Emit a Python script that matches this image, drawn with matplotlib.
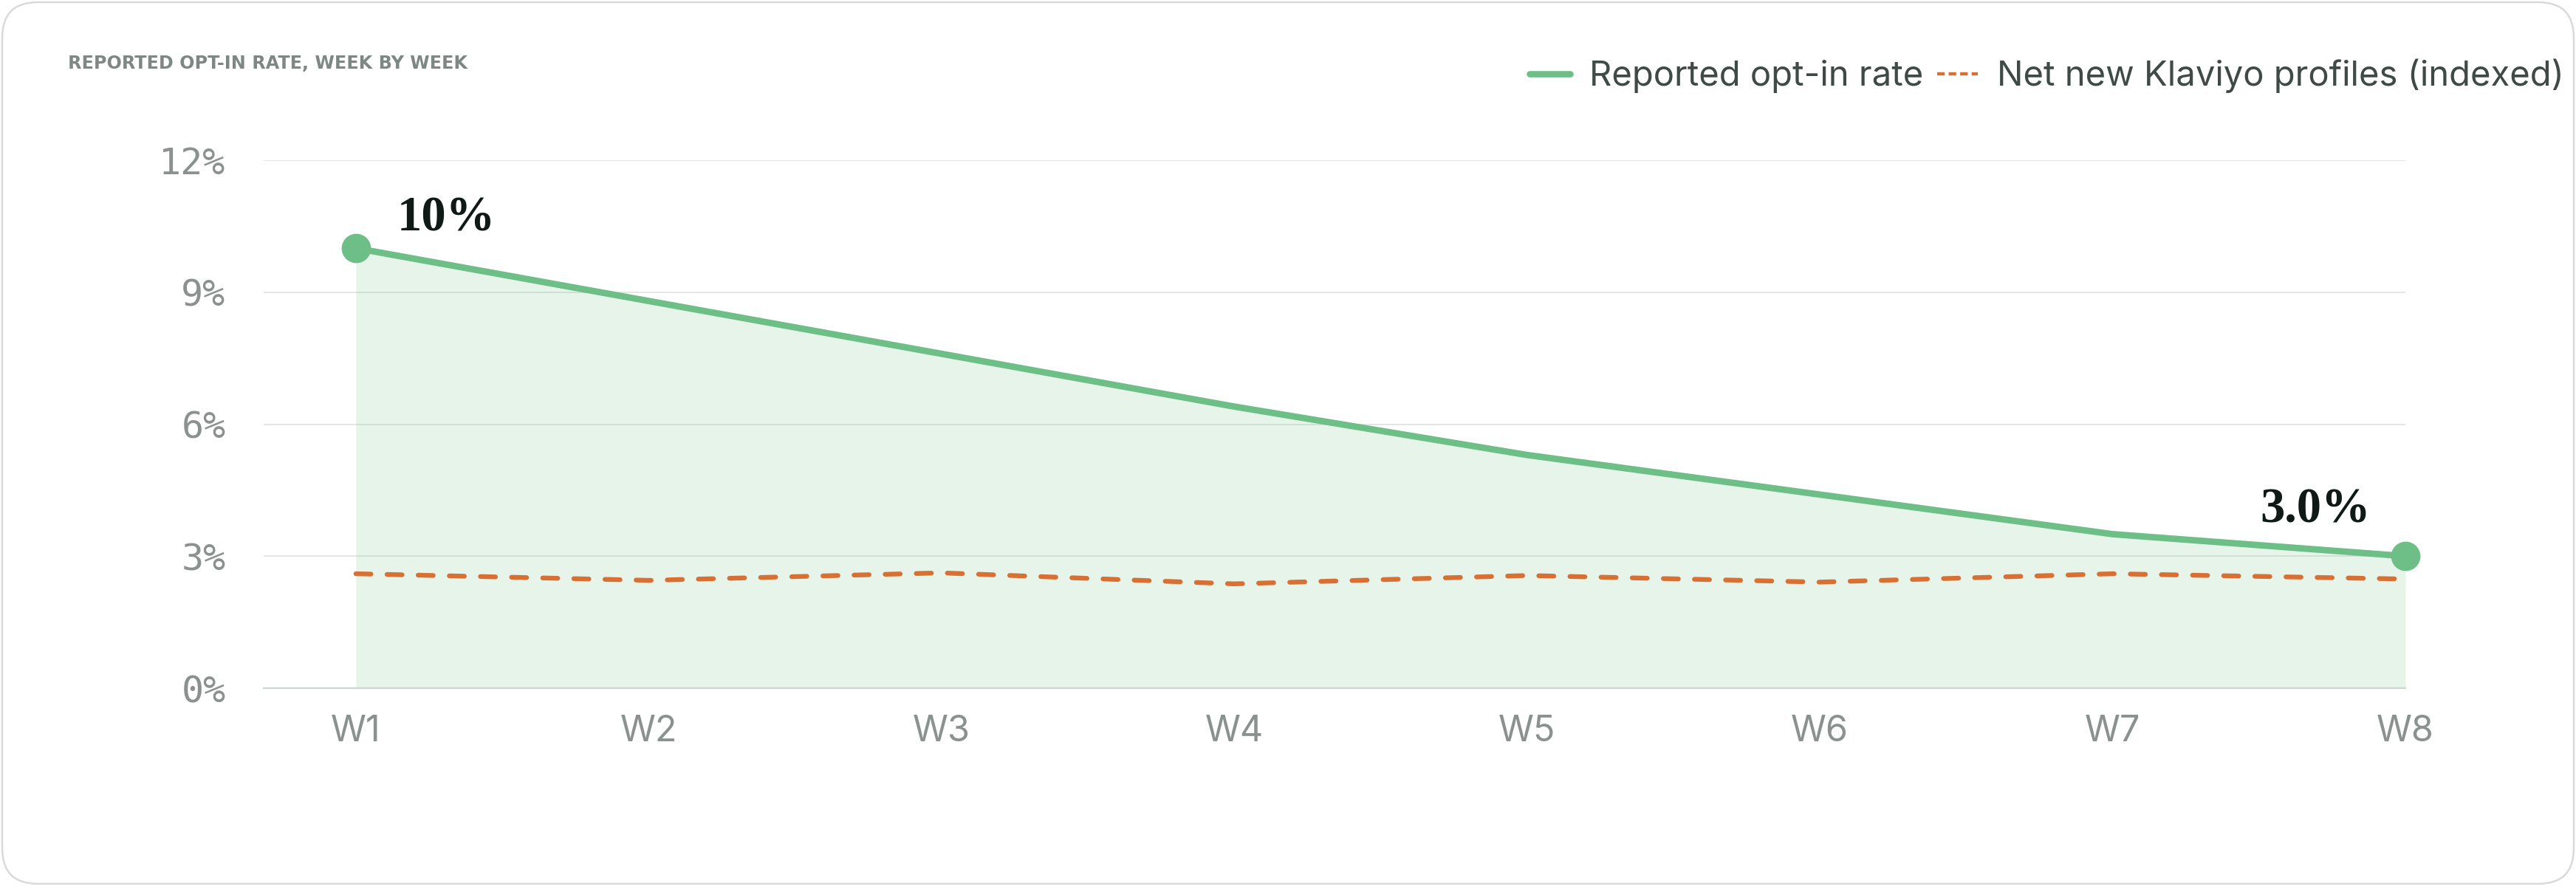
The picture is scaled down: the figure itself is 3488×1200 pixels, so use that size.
import matplotlib
matplotlib.use("Agg")
import matplotlib.pyplot as plt
import matplotlib.patches as mpatches
import matplotlib.transforms as mtransforms
from matplotlib.lines import Line2D

# Data
weeks = ["W1", "W2", "W3", "W4", "W5", "W6", "W7", "W8"]
opt_in_rate = [10.0, 8.8, 7.6, 6.4, 5.3, 4.4, 3.5, 3.0]
net_new_profiles = [2.6, 2.45, 2.62, 2.37, 2.56, 2.41, 2.6, 2.48]
y_ticks = [0, 3, 6, 9, 12]
y_tick_labels = ["0%", "3%", "6%", "9%", "12%"]
first_label = "10%"
last_label = "3.0%"

GREEN = "#6dbf87"
ORANGE = "#d87034"
GRID = "#e4e7e5"
TICK = "#8a918f"

W, H, DPI = 3488, 1200, 200
fig = plt.figure(figsize=(W / DPI, H / DPI), dpi=DPI)
fig.patch.set_facecolor("white")

# card outline
card = mpatches.FancyBboxPatch((3, 3), W - 6, H - 6,
                               boxstyle="round,pad=0,rounding_size=48",
                               transform=mtransforms.IdentityTransform(),
                               facecolor="none", edgecolor="#d8dbda", linewidth=0.9)
fig.patches.append(card)

ax = fig.add_axes([357 / W, 268 / H, (3257 - 357) / W, 715 / H])
ax.set_facecolor("none")
x = list(range(len(weeks)))

ax.fill_between(x, opt_in_rate, 0, color=GREEN, alpha=0.17, linewidth=0, zorder=2)
ax.plot(x, net_new_profiles, color=ORANGE, linewidth=2.3, dashes=(3.2, 3.4),
        dash_capstyle="round", zorder=3)
ax.plot(x, opt_in_rate, color=GREEN, linewidth=3.15, solid_capstyle="round",
        solid_joinstyle="round", marker="o", markersize=13.3, markevery=[0, len(x) - 1],
        zorder=4, clip_on=False)

# end-point labels
serif = dict(family="Liberation Serif", weight="bold", size=24, color="#0f1a17")
ax.annotate(first_label, xy=(x[0], opt_in_rate[0]), xytext=(20, 8.6),
            textcoords="offset points", ha="left", va="baseline", **serif)
ax.annotate(last_label, xy=(x[-1], opt_in_rate[-1]), xytext=(-17, 16.5),
            textcoords="offset points", ha="right", va="baseline", **serif)

ax.set_xlim(-0.315, len(x) - 1)
ax.set_ylim(0, 12)
ax.set_xticks(x)
ax.set_xticklabels(weeks, family="Inter", fontsize=17.5, color=TICK)
ax.set_yticks(y_ticks)
ax.set_yticklabels(y_tick_labels, family="DejaVu Sans Mono", fontsize=18, color=TICK)
ax.tick_params(axis="x", length=0, pad=13)
ax.tick_params(axis="y", length=0, pad=18.5)
ax.set_axisbelow(True)
ax.yaxis.grid(True, color=GRID, linewidth=0.7)
for side in ["top", "right", "left"]:
    ax.spines[side].set_visible(False)
ax.spines["bottom"].set_color("#cfd5d2")
ax.spines["bottom"].set_linewidth(0.8)

fig.text(92 / W, 1 - 86 / H, "REPORTED OPT-IN RATE, WEEK BY WEEK", family="DejaVu Sans",
         weight="bold", fontsize=8.6, color="#7e8784", va="center", ha="left")

handles = [
    Line2D([], [], color=GREEN, linewidth=3.1, solid_capstyle="round"),
    Line2D([], [], color=ORANGE, linewidth=1.6, dashes=(2.3, 1.2), dash_capstyle="butt"),
]
leg = fig.legend(handles, ["Reported opt-in rate", "Net new Klaviyo profiles (indexed)"],
                 loc="center right", bbox_to_anchor=(3472 / W, 1 - 103 / H), ncol=2,
                 frameon=False, borderpad=0, borderaxespad=0, handlelength=1.17,
                 handletextpad=0.55, columnspacing=0.4,
                 prop={"family": "Inter", "size": 17})
for t in leg.get_texts():
    t.set_color("#3f4a47")

fig.savefig("out.png", dpi=DPI, facecolor="white")
